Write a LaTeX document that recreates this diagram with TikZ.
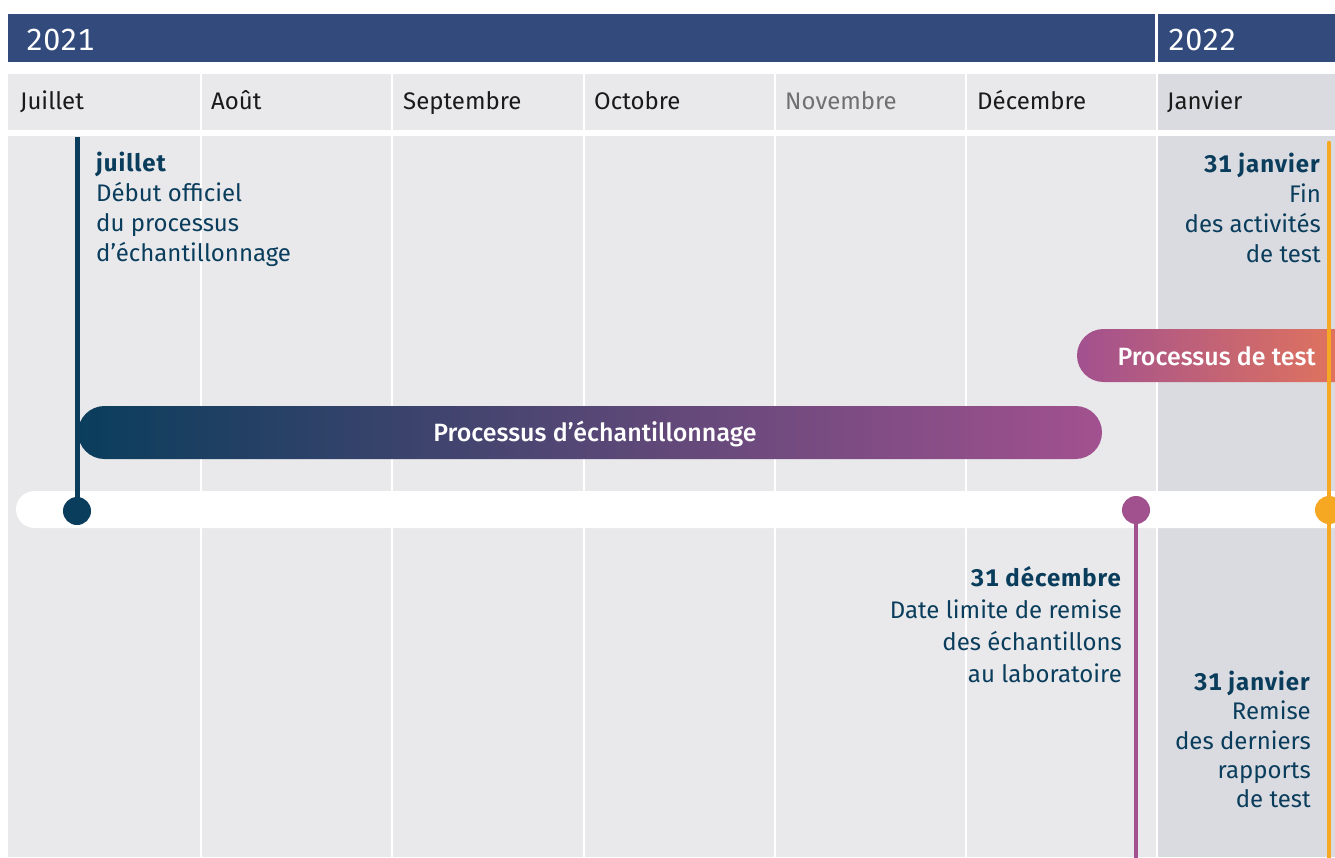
\documentclass[tikz,border=0pt]{standalone}
\usepackage{fontspec}
\setmainfont{Fira Sans}[Numbers=Monospaced,BoldFeatures={LetterSpace=4}]
\newfontfamily\medfont{Fira Sans}[UprightFont={* Medium},Numbers=Monospaced]
\definecolor{hdr}{HTML}{324B7C}
\definecolor{cell}{HTML}{E9E9EC}
\definecolor{cellj}{HTML}{DADBE0}
\definecolor{teal}{HTML}{0A3D5C}
\definecolor{purp}{HTML}{A2518F}
\definecolor{orng}{HTML}{F7A823}
\definecolor{orngbar}{HTML}{EE7B52}
\definecolor{monthtxt}{HTML}{1A1A1A}
\definecolor{greytxt}{HTML}{707070}
\tikzset{
  yeartxt/.style={anchor=base west,inner sep=0,text=white,font=\fontsize{30.5}{30}\selectfont},
  monthlbl/.style={anchor=base west,inner sep=0,text=monthtxt,font=\fontsize{24}{24}\selectfont},
  evtxt/.style={inner sep=0,text=teal,font=\fontsize{24}{30}\selectfont},
  bartxt/.style={inner sep=0,text=white,font=\medfont\fontsize{25}{25}\selectfont},
  dotstyle/.style={circle,inner sep=0,minimum size=28pt},
}
\begin{document}
\begin{tikzpicture}[x=1pt,y=-1pt]
\useasboundingbox (0,0) rectangle (1335,857);
\clip (0,0) rectangle (1335,857);
\fill[white] (0,0) rectangle (1335,857);
% header
\fill[hdr] (8,14) rectangle (1335,62);
\fill[white] (1155,14) rectangle (1157.5,62);
\node[yeartxt] (y2021) at (26,50.5) {2021};
\node[yeartxt] (y2022) at (1168,50.5) {2022};
% columns
\foreach \l/\r in {8/200,202/391,393/583,585/774,776/965,967/1156}{
  \fill[cell] (\l,74) rectangle (\r,130);
  \fill[cell] (\l,136) rectangle (\r,857);
}
\fill[cellj] (1158,74) rectangle (1340,130);
\fill[cellj] (1158,136) rectangle (1340,857);
% month labels
\node[monthlbl] (m1) at (20,109.5) {Juillet};
\node[monthlbl] (m2) at (211,109.5) {Août};
\node[monthlbl] (m3) at (403,109.5) {Septembre};
\node[monthlbl] (m4) at (594,109.5) {Octobre};
\node[monthlbl,text=greytxt] (m5) at (785,109.5) {Novembre};
\node[monthlbl] (m6) at (977,109.5) {Décembre};
\node[monthlbl] (m7) at (1167,109.5) {Janvier};
% white timeline band
\fill[white,rounded corners=18.5] (16,491) rectangle (1400,528);
% bars
\shade[left color=teal,right color=purp,rounded corners=26.5] (78,406) rectangle (1102,459);
\node[bartxt] (sampling) at (595,434) {Processus d’échantillonnage};
\shade[left color=purp,right color=orngbar,rounded corners=26.5] (1077,329) rectangle (1400,382);
\node[bartxt,anchor=east] (testing) at (1316,356) {Processus de test};
% markers
\coordinate (tjul) at (77,137);
\node[dotstyle,fill=teal] (djul) at (77,511) {};
\draw[teal,line width=5pt] (tjul) -- (djul.center);
\node[dotstyle,fill=purp] (ddec) at (1136,510) {};
\coordinate (bdec) at (1136,860);
\draw[purp,line width=4.5pt] (ddec.center) -- (bdec);
\coordinate (tjan) at (1329,143);
\coordinate (bjan) at (1329,860);
\draw[orng,line width=4.5pt,line cap=round] (tjan) -- (bjan);
\node[dotstyle,fill=orng] (djan) at (1329,510) {};
% event texts
\node[evtxt,anchor=north west,align=left] (ejul) at (96,152)
  {\textbf{juillet}\\Début officiel\\du processus\\d’échantillonnage};
\node[evtxt,anchor=north east,align=right] (ejan1) at (1321,153)
  {\textbf{31 janvier}\\Fin\\des activités\\de test};
\node[evtxt,anchor=north east,align=right,font=\fontsize{24}{32}\selectfont] (edec) at (1122,566)
  {\textbf{31 décembre}\\Date limite de remise\\des échantillons\\au laboratoire};
\node[evtxt,anchor=north east,align=right,font=\fontsize{24}{29.2}\selectfont] (ejan2) at (1311,671)
  {\textbf{31 janvier}\\Remise\\des derniers\\rapports\\de test};
\end{tikzpicture}
\end{document}
